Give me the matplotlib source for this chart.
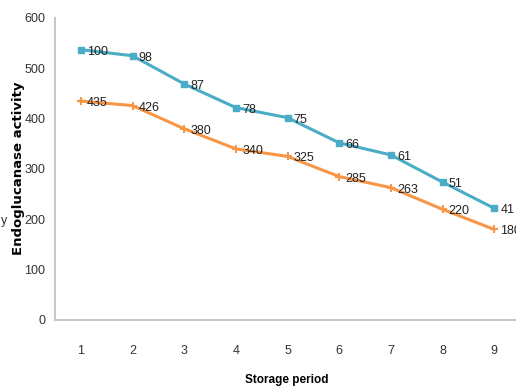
import matplotlib.pyplot as plt

plt.rcParams['font.family'] = ['Liberation Sans', 'DejaVu Sans']

period = [1, 2, 3, 4, 5, 6, 7, 8, 9]
blue_vals = [537, 525, 469, 422, 402, 352, 328, 274, 222]
blue_labels = [100, 98, 87, 78, 75, 66, 61, 51, 41]
orange_vals = [435, 426, 380, 340, 325, 285, 263, 220, 180]

blue = '#4BACC6'
orange = '#F79646'

fig = plt.figure(figsize=(5.16, 3.90), dpi=100)
ax = fig.add_axes([55 / 516, 1 - 320 / 390, 465 / 516, 302 / 390])

ax.plot(period, blue_vals, color=blue, lw=2.2, marker='s', ms=5, clip_on=False)
ax.plot(period, orange_vals, color=orange, lw=2.2, marker='+', ms=6, mew=1.5, clip_on=False)

for x, y, t in zip(period, blue_vals, blue_labels):
    ax.annotate(str(t), (x, y), xytext=(4.5, -1.5), textcoords='offset points',
                ha='left', va='center', fontsize=9, color='#222222')
for x, y in zip(period, orange_vals):
    ax.annotate(str(y), (x, y), xytext=(4.5, -1.5), textcoords='offset points',
                ha='left', va='center', fontsize=9, color='#222222')

ax.set_xlim(0.5, 9.5)
ax.set_ylim(0, 600)
ax.set_xticks(period)
ax.set_yticks(range(0, 601, 100))
ax.tick_params(length=0, labelsize=9, colors='#333333')
ax.tick_params(axis='x', pad=18)
ax.tick_params(axis='y', pad=7)

for s in ['top', 'right']:
    ax.spines[s].set_visible(False)
for s in ['left', 'bottom']:
    ax.spines[s].set_color('#c8c8c8')
    ax.spines[s].set_linewidth(1.5)

ax.set_xlabel('Storage period', fontsize=8.5, fontweight='bold')
ax.xaxis.label.set_va('center')
ax.xaxis.set_label_coords((287 - 55) / 465, -(380 - 320) / 302)
ax.set_ylabel('Endoglucanase activity', fontsize=9.5, fontweight='bold', family='DejaVu Sans')
ax.yaxis.set_label_coords(-(55 - 25) / 465, (320 - 168) / 302)

# stray glyph at the left margin
fig.text(1 / 516, 1 - 221 / 390, 'y', fontsize=9, ha='left', va='center', color='#333333')

fig.savefig('out.png', dpi=100)
